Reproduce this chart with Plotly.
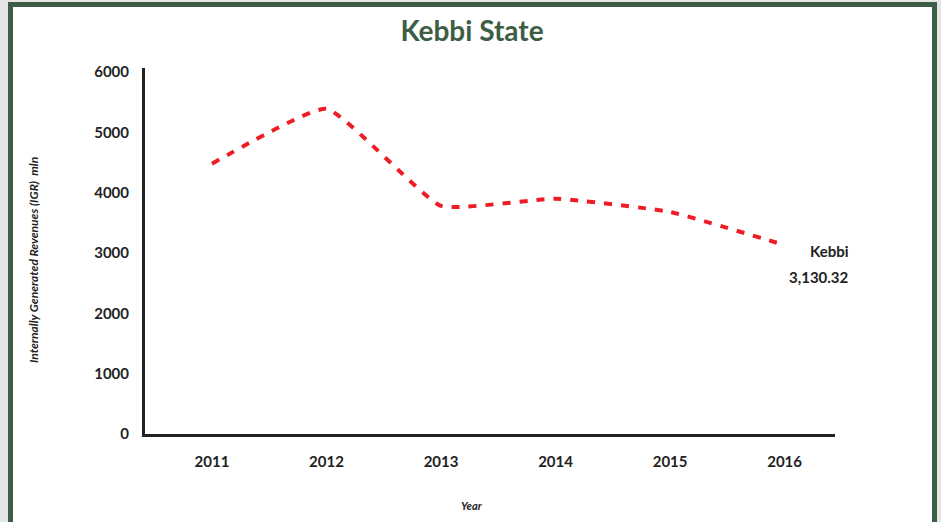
import plotly.graph_objects as go

# ---- data ----
years = [2011, 2012, 2013, 2014, 2015, 2016]
igr_mln = [4480, 5390, 3780, 3900, 3680, 3130.32]
y_ticks = [0, 1000, 2000, 3000, 4000, 5000, 6000]
series_name = "Kebbi"
last_label = "3,130.32"

W, H = 941, 522
L, R, T, B = 145, 106, 68, 88
PW, PH = W - L - R, H - T - B

def px_x(p):
    return (p - L) / PW

def px_y(p):
    return (H - B - p) / PH

GREEN = "#3d5e45"
INK = "#222222"
FONT = "Lato"

fig = go.Figure()
fig.add_trace(go.Scatter(
    x=years, y=igr_mln, mode="lines",
    line=dict(color="#ee1c25", width=4, dash="8px,9px", shape="spline", smoothing=0.4),
    hoverinfo="skip", showlegend=False,
))

fig.update_layout(
    width=W, height=H,
    margin=dict(l=L, r=R, t=T, b=B),
    paper_bgcolor="#e6e6e6",
    plot_bgcolor="rgba(0,0,0,0)",
    font=dict(family=FONT, color=INK),
    title=dict(text="Kebbi State", x=0.5016, xref="container", xanchor="center",
               y=1 - 31 / H, yref="container", yanchor="middle",
               font=dict(family=FONT, size=28, color=GREEN, weight="bold")),
    xaxis=dict(range=[2010.415, 2016.44], tickvals=years, ticktext=[str(y) for y in years],
               showgrid=False, zeroline=False, showline=True, linecolor=INK, linewidth=3,
               ticks="", ticklabelstandoff=12,
               tickfont=dict(family=FONT, size=15, color=INK, weight="bold")),
    yaxis=dict(range=[0, 6066], tickvals=y_ticks, ticktext=[str(v) for v in y_ticks],
               showgrid=False, zeroline=False, showline=True, linecolor=INK, linewidth=3,
               ticks="", ticklabelstandoff=10,
               tickfont=dict(family=FONT, size=15, color=INK, weight="bold")),
    shapes=[dict(type="rect", xref="paper", yref="paper", layer="below",
                 x0=px_x(10.5), x1=px_x(934.5), y0=px_y(540), y1=px_y(4.5),
                 fillcolor="white", line=dict(color=GREEN, width=5))],
)

fig.add_annotation(xref="paper", yref="paper", x=px_x(33), y=px_y(260),
                   xanchor="center", yanchor="middle",
                   text="<i>Internally Generated Revenues (IGR)  mln</i>", textangle=-90,
                   showarrow=False, font=dict(family=FONT, size=12, color=INK, weight="bold"))
fig.add_annotation(xref="paper", yref="paper", x=px_x(472), y=px_y(505),
                   xanchor="center", yanchor="middle",
                   text="<i>Year</i>", showarrow=False,
                   font=dict(family=FONT, size=11, color=INK, weight="bold"))
fig.add_annotation(x=years[-1], y=igr_mln[-1], xanchor="right", yanchor="middle",
                   xshift=66, yshift=-6, text=series_name, showarrow=False,
                   font=dict(family=FONT, size=15, color=INK, weight="bold"))
fig.add_annotation(x=years[-1], y=igr_mln[-1], xanchor="right", yanchor="middle",
                   xshift=66, yshift=-32, text=last_label, showarrow=False,
                   font=dict(family=FONT, size=15, color=INK, weight="bold"))

fig.write_html("out.html", config={"displayModeBar": False},
               post_script="document.body.style.margin='0';")
